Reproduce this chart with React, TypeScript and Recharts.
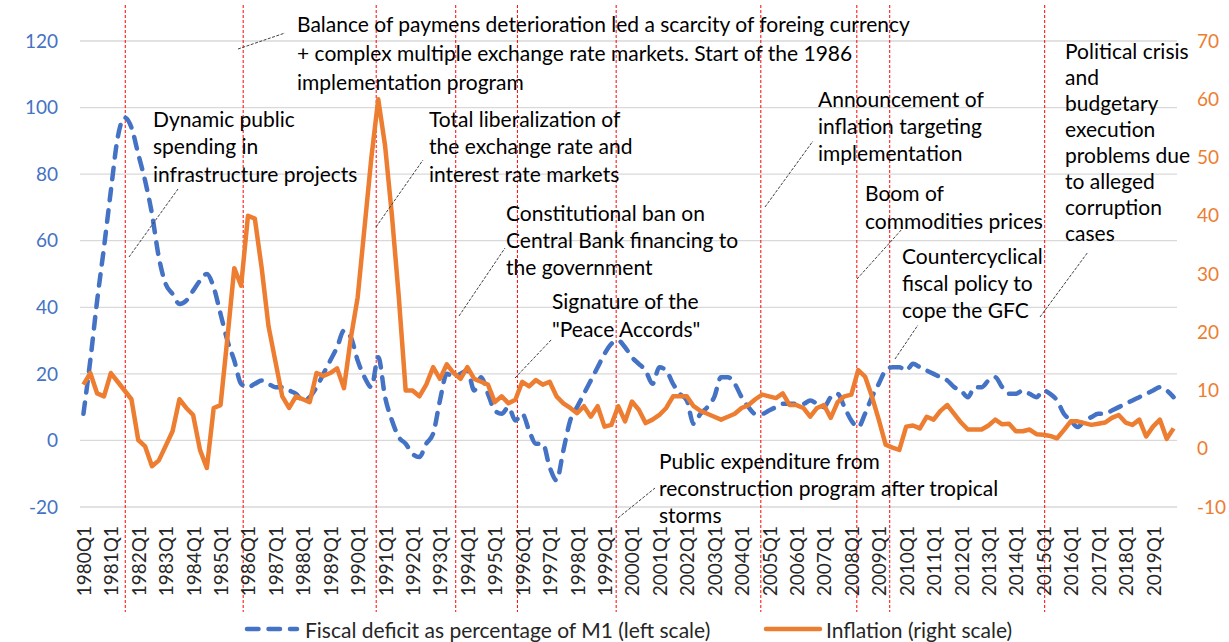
import React from "react";
import {
  LineChart,
  Line,
  XAxis,
  YAxis,
  CartesianGrid,
  ReferenceLine,
} from "recharts";

const FONT = "Lato, 'Open Sans', sans-serif";
const BLUE = "#4472C4";
const ORANGE = "#ED7D31";
const TEXT = "#262626";

// fiscal deficit as % of M1, quarterly 1980Q1..2019Q4 (left scale)
const fiscal = [
  8, 24, 42, 58, 75, 91, 97, 94, 86, 78,
  68, 55, 47, 44, 41, 42, 45, 48, 50, 46,
  38, 30, 24, 17, 16, 17, 18, 17, 16, 16,
  15, 14, 12, 13, 16, 20, 24, 28, 33, 31,
  24, 19, 16, 25, 13, 6, 1, -1, -4, -5,
  -1, 2, 12, 20, 19, 20, 21, 15, 19, 14,
  9, 8, 10, 6, 8, 3, -1, -1, -8, -12,
  -3, 6, 10, 14, 18, 22, 26, 29, 30, 28,
  25, 23, 21, 17, 22, 21, 17, 14, 12, 5,
  8, 10, 13, 19, 19, 17, 13, 10, 8, 8,
  9, 10, 11, 11, 11, 11, 12, 11, 10, 13,
  14, 10, 6, 4, 8, 13, 17, 21, 22, 22,
  21, 23, 22, 21, 20, 19, 18, 16, 15, 13,
  16, 16, 18, 19, 16, 14, 14, 15, 14, 13,
  15, 14, 12, 8, 6, 4, 6, 7, 8, 8,
  9, 10, 11, 12, 13, 14, 15, 16, 15, 13,
];

// inflation, same quarters (right scale)
const inflation = [
  11, 13, 9.5, 9, 13, 11.5, 10, 8.5, 1.5, 0.4,
  -3, -2, 0.5, 3, 8.5, 7, 5.8, -0.2, -3.3, 7,
  7.5, 19, 31, 28, 40, 39.5, 31, 21, 15, 9,
  7, 9, 8.5, 8, 13, 12.5, 13, 13.8, 10.4, 19,
  26, 38, 50, 60, 52, 40, 26, 10, 10, 9,
  11, 14, 12, 14.5, 13, 12, 14, 12, 11.5, 11,
  8, 9, 7.8, 8.4, 11.5, 10.7, 11.8, 11, 11.5, 9,
  7.8, 7, 6.1, 7.3, 5.5, 7.3, 3.8, 4.1, 7.3, 4.7,
  8.1, 6.7, 4.4, 5, 5.8, 7, 9, 9, 9, 7.3,
  6.5, 6, 5.5, 5, 5.5, 6, 7, 7.5, 8.5, 9.3,
  9, 8.7, 9.5, 7.5, 7.5, 7, 5.5, 7, 7.5, 5.3,
  8, 9, 9.3, 13.5, 12.4, 9, 5, 0.7, 0.2, -0.2,
  3.8, 4, 3.5, 5.5, 5, 6.5, 7.5, 6, 4.5, 3.3,
  3.3, 3.3, 4, 5, 4.2, 4.3, 3, 3, 3.3, 2.5,
  2.4, 2.2, 1.8, 3.2, 4.7, 4.7, 4.4, 4.1, 4.3, 4.5,
  5.3, 5.8, 4.5, 4.1, 5, 2.1, 3.8, 5, 1.7, 3.5,
];

const years = Array.from({ length: 40 }, (_, k) => 1980 + k);
const quarters = years.flatMap((y) => [1, 2, 3, 4].map((q) => `${y}Q${q}`));
const tickIdx = years.map((_, k) => k * 4);

const leftTicks = [-20, 0, 20, 40, 60, 80, 100, 120];
const rightTicks = [-10, 0, 10, 20, 30, 40, 50, 60, 70];

// event marks (quarter position, red dashed lines)
const eventAt = [6.1, 23.3, 42.7, 54.3, 63.3, 77.7, 98.8, 112.8, 117.6, 140.2];

const data = quarters.map((q, i) => ({
  i,
  q,
  fiscal: fiscal[i],
  inflation: inflation[i],
}));

const notes = [
  {
    x: 297, y: 23, lh: 29, from: [238, 49], to: [285, 33],
    lines: [
      "Balance of paymens deterioration led a scarcity of foreing currency",
      "+ complex multiple exchange rate markets. Start of the 1986",
      "implementation program",
    ],
  },
  {
    x: 153, y: 118, lh: 27.5, from: [129, 257], to: [178, 189],
    lines: ["Dynamic public", "spending in", "infrastructure projects"],
  },
  {
    x: 429, y: 118, lh: 27.5, from: [376, 227], to: [423, 160],
    lines: ["Total liberalization of", "the exchange rate and", "interest rate markets"],
  },
  {
    x: 506, y: 212, lh: 27, from: [459, 316], to: [505, 248],
    lines: ["Constitutional ban on", "Central Bank financing to", "the government"],
  },
  {
    x: 552, y: 300, lh: 28, from: [515, 378], to: [552, 339],
    lines: ["Signature of the", "\"Peace Accords\""],
  },
  {
    x: 659, y: 460, lh: 27, from: [618, 518], to: [655, 488],
    lines: ["Public expenditure from", "reconstruction program after tropical", "storms"],
  },
  {
    x: 818, y: 98, lh: 27, from: [765, 207], to: [813, 141],
    lines: ["Announcement of", "inflation targeting", "implementation"],
  },
  {
    x: 865, y: 192, lh: 28, from: [857, 279], to: [903, 228],
    lines: ["Boom of", "commodities prices"],
  },
  {
    x: 902, y: 255, lh: 27, from: [895, 359], to: [918, 325],
    lines: ["Countercyclical", "fiscal policy to", "cope the GFC"],
  },
  {
    x: 1065, y: 50, lh: 26.1, from: [1040, 317], to: [1088, 252],
    lines: [
      "Political crisis", "and", "budgetary", "execution",
      "problems due", "to alleged", "corruption", "cases",
    ],
  },
];

function QuarterTick({ x, y, payload }: any) {
  return (
    <text
      x={x}
      y={y + 17}
      transform={`rotate(-90, ${x}, ${y + 17})`}
      textAnchor="end"
      dominantBaseline="central"
      fill={TEXT}
      fontSize={19}
      fontFamily={FONT}
    >
      {quarters[payload.value]}
    </text>
  );
}

function EventLine(props: any) {
  return (
    <line
      x1={props.x1}
      x2={props.x2}
      y1={5}
      y2={612}
      stroke="#FF0000"
      strokeWidth={1}
      strokeDasharray="3 2"
    />
  );
}

export default function App() {
  return (
    <div style={{ position: "absolute", left: 0, top: 0, width: 1229, height: 642, background: "#fff" }}>
      <LineChart
        width={1229}
        height={642}
        data={data}
        margin={{ top: 41, right: 0, left: 0, bottom: 28 }}
      >
        <CartesianGrid yAxisId="left" vertical={false} stroke="#D9D9D9" strokeWidth={1.3} />
        <XAxis
          dataKey="i"
          type="number"
          domain={[-0.5, 159.5]}
          ticks={tickIdx}
          interval={0}
          tick={<QuarterTick />}
          axisLine={false}
          tickLine={false}
          tickSize={0}
          height={107}
        />
        <YAxis
          yAxisId="left"
          domain={[-20, 120]}
          ticks={leftTicks}
          width={80}
          axisLine={false}
          tickLine={false}
          tickSize={0}
          tickMargin={22}
          tick={{ fill: BLUE, fontSize: 19, fontFamily: FONT }}
        />
        <YAxis
          yAxisId="right"
          orientation="right"
          domain={[-10, 70]}
          ticks={rightTicks}
          width={52}
          axisLine={false}
          tickLine={false}
          tickSize={0}
          tickMargin={20}
          tick={{ fill: ORANGE, fontSize: 19, fontFamily: FONT }}
        />
        {eventAt.map((e) => (
          <ReferenceLine key={e} x={e} yAxisId="left" shape={EventLine} />
        ))}
        <Line
          yAxisId="left"
          dataKey="fiscal"
          type="monotone"
          stroke={BLUE}
          strokeWidth={4.5}
          strokeDasharray="11.5 10"
          strokeLinecap="round"
          dot={false}
          isAnimationActive={false}
        />
        <Line
          yAxisId="right"
          dataKey="inflation"
          type="linear"
          stroke={ORANGE}
          strokeWidth={4.5}
          strokeLinejoin="round"
          dot={false}
          isAnimationActive={false}
        />
      </LineChart>
      <svg
        width={1229}
        height={642}
        style={{ position: "absolute", left: 0, top: 0, pointerEvents: "none" }}
        fontFamily={FONT}
      >
        {notes.map((n, k) => (
          <g key={k}>
            <line
              x1={n.from[0]}
              y1={n.from[1]}
              x2={n.to[0]}
              y2={n.to[1]}
              stroke="#404040"
              strokeWidth={1}
              strokeDasharray="3 1.5"
            />
            {n.lines.map((t, j) => (
              <text
                key={j}
                x={n.x}
                y={n.y + j * n.lh}
                dominantBaseline="central"
                fontSize={21}
                fill="#000"
              >
                {t}
              </text>
            ))}
          </g>
        ))}
        <line x1={247} x2={297} y1={629} y2={629} stroke={BLUE} strokeWidth={4.5} strokeDasharray="11.5 10" strokeLinecap="round" />
        <text x={305} y={629} dominantBaseline="central" fontSize={21} fill={TEXT}>
          Fiscal deficit as percentage of M1 (left scale)
        </text>
        <line x1={766} x2={820} y1={629} y2={629} stroke={ORANGE} strokeWidth={4.5} strokeLinecap="round" />
        <text x={826} y={629} dominantBaseline="central" fontSize={21} fill={TEXT}>
          Inflation (right scale)
        </text>
      </svg>
    </div>
  );
}
